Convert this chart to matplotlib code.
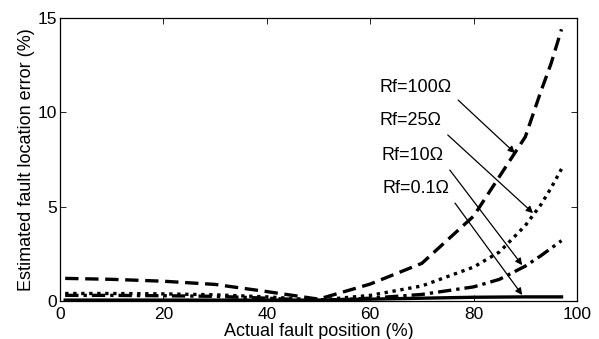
import matplotlib
matplotlib.use("Agg")
import matplotlib.pyplot as plt

plt.rcParams['font.family'] = ['Liberation Sans', 'DejaVu Sans']

x = [1, 10, 20, 30, 40, 50, 60, 70, 80, 85, 90, 93, 95, 97]
rf100 = [1.2, 1.15, 1.05, 0.88, 0.5, 0.1, 0.9, 2.0, 4.5, 6.6, 8.7, 11.1, 12.6, 14.4]
rf25 = [0.4, 0.4, 0.38, 0.33, 0.22, 0.05, 0.3, 0.8, 1.8, 2.6, 4.0, 5.1, 6.0, 7.0]
rf10 = [0.3, 0.3, 0.28, 0.25, 0.15, 0.03, 0.15, 0.35, 0.75, 1.15, 1.85, 2.4, 2.8, 3.2]
rf01 = [0.05, 0.05, 0.05, 0.05, 0.05, 0.05, 0.1, 0.15, 0.2, 0.21, 0.22, 0.22, 0.22, 0.22]

labels = ["Rf=100Ω", "Rf=25Ω", "Rf=10Ω", "Rf=0.1Ω"]
text_pos = [(61.8, 11.3), (61.8, 9.55), (62.2, 7.7), (62.4, 5.95)]
arrow_tail = [(77, 10.65), (75, 8.8), (75.4, 6.94), (76.4, 5.19)]
arrow_head = [(88, 7.84), (91.5, 4.66), (89.4, 1.9), (89.4, 0.32)]

xticks = [0, 20, 40, 60, 80, 100]
yticks = [0, 5, 10, 15]

fig = plt.figure(figsize=(5.99, 3.39), dpi=100)
ax = fig.add_axes([0.1002, 0.112, 0.8631, 0.835])

ax.plot(x, rf100, color='black', lw=2.4, linestyle=(0, (4, 2)), dash_capstyle='butt')
ax.plot(x, rf25, color='black', lw=2.4, linestyle=(0, (1, 1.4)))
ax.plot(x, rf10, color='black', lw=2.4, linestyle=(0, (4, 1.5, 1, 1.5)))
ax.plot(x, rf01, color='black', lw=2.4, linestyle='-')

for lab, tp, tt, hh in zip(labels, text_pos, arrow_tail, arrow_head):
    ax.text(tp[0], tp[1], lab, fontsize=13, ha='left', va='center')
    ax.annotate('', xy=hh, xytext=tt,
                arrowprops=dict(arrowstyle='-|>', color='black', lw=0.9,
                                mutation_scale=10, shrinkA=0, shrinkB=0))

ax.set_xlim(0, 100)
ax.set_ylim(0, 15)
ax.set_xticks(xticks)
ax.set_yticks(yticks)
ax.tick_params(direction='in', top=True, right=True, length=4, width=0.6,
               labelsize=12.5)
ax.tick_params(axis='x', pad=4.5)
ax.tick_params(axis='y', pad=2)
for s in ax.spines.values():
    s.set_linewidth(0.9)

ax.set_xlabel('Actual fault position (%)', fontsize=13, labelpad=0.5)
ax.set_ylabel('Estimated fault location error (%)', fontsize=13, labelpad=2)

fig.savefig('out.png', dpi=100)
